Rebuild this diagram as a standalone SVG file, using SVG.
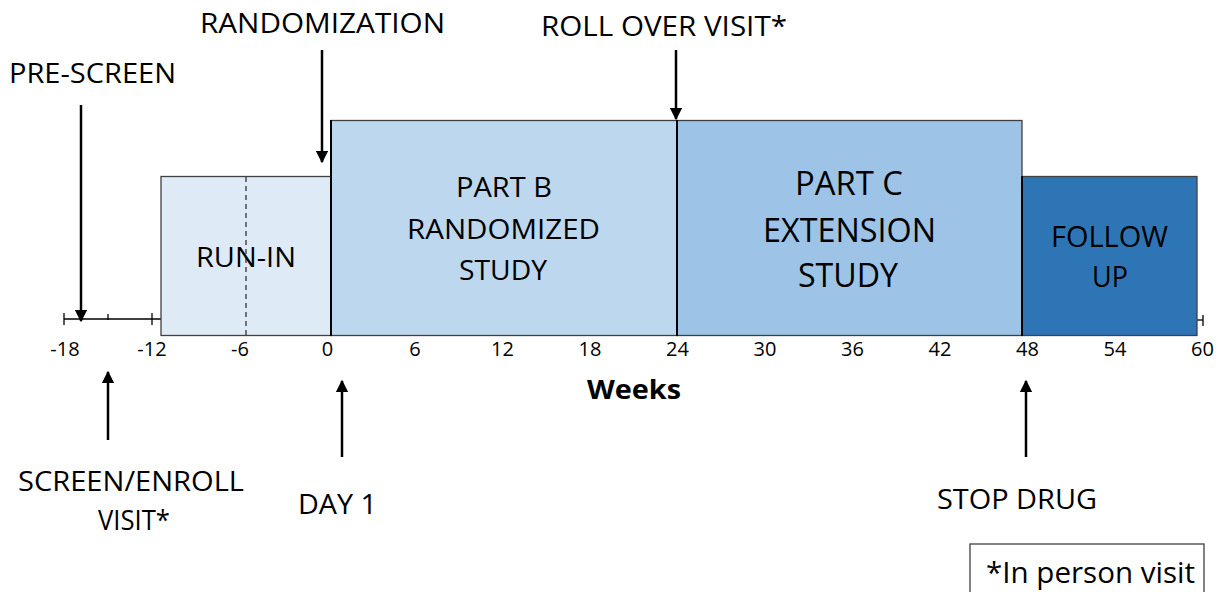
<svg xmlns="http://www.w3.org/2000/svg" width="1225" height="592" viewBox="0 0 1225 592">
<style>
text{font-family:"Open Sans","Liberation Sans",sans-serif;fill:#000}
.lbl{font-size:28px}
.mid{text-anchor:middle}
.ax{font-size:20px;text-anchor:middle}
.arr{stroke:#000;stroke-width:2.5;fill:none;marker-end:url(#ah)}
.tk{stroke:#000;stroke-width:1.3}
</style>
<defs>
<marker id="ah" viewBox="0 0 10 10" refX="9" refY="5" markerWidth="5" markerHeight="5" orient="auto" markerUnits="strokeWidth">
<path d="M0,0L10,5L0,10z" fill="#000"/>
</marker>
</defs>
<rect width="1225" height="592" fill="#fff"/>
<g id="axis">
<line class="tk" x1="64" y1="319" x2="161" y2="319"/>
<line class="tk" x1="64" y1="313" x2="64" y2="325"/>
<line class="tk" x1="108" y1="314" x2="108" y2="320"/>
<line class="tk" x1="152" y1="313" x2="152" y2="325"/>
<line class="tk" x1="1197" y1="320" x2="1203" y2="320"/>
<line class="tk" x1="1203" y1="315" x2="1203" y2="326"/>
<text class="ax" x="65" y="356">-18</text>
<text class="ax" x="152" y="356">-12</text>
<text class="ax" x="240" y="356">-6</text>
<text class="ax" x="327.5" y="356">0</text>
<text class="ax" x="415" y="356">6</text>
<text class="ax" x="502.5" y="356">12</text>
<text class="ax" x="590" y="356">18</text>
<text class="ax" x="677.5" y="356">24</text>
<text class="ax" x="765" y="356">30</text>
<text class="ax" x="852.5" y="356">36</text>
<text class="ax" x="940" y="356">42</text>
<text class="ax" x="1027.5" y="356">48</text>
<text class="ax" x="1115" y="356">54</text>
<text class="ax" x="1202.5" y="356">60</text>
<text x="587" y="399" font-size="27" font-weight="bold" textLength="94" lengthAdjust="spacingAndGlyphs">Weeks</text>
</g>
<g id="run-in">
<rect x="161" y="176.5" width="170" height="159" fill="#DEEBF7" stroke="#404040" stroke-width="1.3"/>
<line x1="246" y1="177" x2="246" y2="335" stroke="#333" stroke-width="1.3" stroke-dasharray="5,4"/>
<text x="196" y="267" font-size="27" textLength="100" lengthAdjust="spacingAndGlyphs">RUN-IN</text>
</g>
<g id="part-b">
<rect x="331" y="120.5" width="346" height="215" fill="#BDD7EE" stroke="#404040" stroke-width="1.3"/>
<text x="456" y="197" font-size="28" textLength="96" lengthAdjust="spacingAndGlyphs">PART B</text>
<text x="407" y="239" font-size="28" textLength="193" lengthAdjust="spacingAndGlyphs">RANDOMIZED</text>
<text x="459" y="280" font-size="28" textLength="88" lengthAdjust="spacingAndGlyphs">STUDY</text>
</g>
<g id="part-c">
<rect x="677" y="120.5" width="345" height="215" fill="#9DC3E6" stroke="#404040" stroke-width="1.3"/>
<text x="795" y="195" font-size="33" textLength="108" lengthAdjust="spacingAndGlyphs">PART C</text>
<text x="763" y="242" font-size="33" textLength="173" lengthAdjust="spacingAndGlyphs">EXTENSION</text>
<text x="798" y="287" font-size="33" textLength="100" lengthAdjust="spacingAndGlyphs">STUDY</text>
</g>
<g id="follow-up">
<rect x="1022" y="176.5" width="175" height="159" fill="#2E75B6" stroke="#404040" stroke-width="1.3"/>
<text x="1051" y="247" font-size="29" textLength="117" lengthAdjust="spacingAndGlyphs">FOLLOW</text>
<text x="1092" y="287" font-size="29" textLength="36" lengthAdjust="spacingAndGlyphs">UP</text>
</g>
<g id="dividers">
<line x1="331" y1="120" x2="331" y2="336" stroke="#000" stroke-width="2"/>
<line x1="677" y1="120" x2="677" y2="336" stroke="#000" stroke-width="2"/>
<line x1="1022" y1="176" x2="1022" y2="336" stroke="#000" stroke-width="2"/>
</g>
<g id="connectors">
<line class="arr" x1="81" y1="105" x2="81" y2="321"/>
<line class="arr" x1="322" y1="50" x2="322" y2="162"/>
<line class="arr" x1="676" y1="50" x2="676" y2="119"/>
<line class="arr" x1="108" y1="440" x2="108" y2="372"/>
<line class="arr" x1="342" y1="457" x2="342" y2="381"/>
<line class="arr" x1="1026" y1="457" x2="1026" y2="381"/>
</g>
<g id="pre-screen"><text class="lbl" x="9" y="83" textLength="167" lengthAdjust="spacingAndGlyphs">PRE-SCREEN</text></g>
<g id="randomization"><text class="lbl" x="200" y="33" textLength="245" lengthAdjust="spacingAndGlyphs">RANDOMIZATION</text></g>
<g id="roll-over"><text class="lbl" x="541" y="36" textLength="246" lengthAdjust="spacingAndGlyphs">ROLL OVER VISIT*</text></g>
<g id="screen-enroll">
<text class="lbl" x="18" y="491" textLength="226" lengthAdjust="spacingAndGlyphs">SCREEN/ENROLL</text>
<text class="lbl" x="98" y="530" textLength="72" lengthAdjust="spacingAndGlyphs">VISIT*</text>
</g>
<g id="day1"><text class="lbl" x="298" y="514" textLength="79" lengthAdjust="spacingAndGlyphs">DAY 1</text></g>
<g id="stop-drug"><text class="lbl" x="937" y="509" textLength="160" lengthAdjust="spacingAndGlyphs">STOP DRUG</text></g>
<g id="legend">
<rect x="970" y="544" width="234" height="60" fill="#fff" stroke="#404040" stroke-width="1.3"/>
<text x="986" y="583" font-size="30" textLength="209" lengthAdjust="spacingAndGlyphs">*In person visit</text>
</g>
</svg>
